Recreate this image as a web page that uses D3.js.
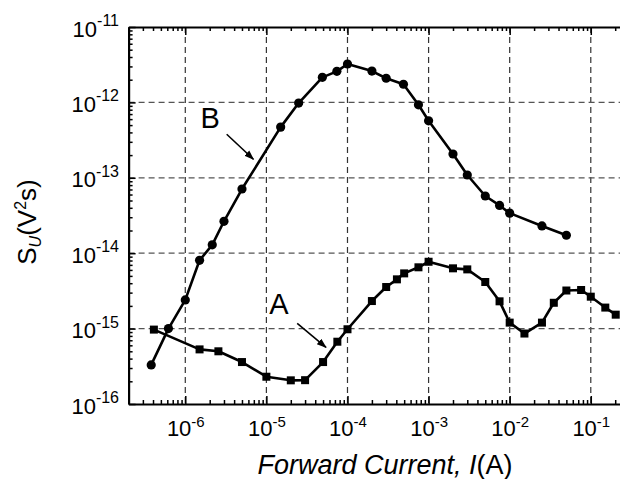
<!DOCTYPE html>
<html>
<head>
<meta charset="utf-8">
<script src="https://cdn.jsdelivr.net/npm/d3@7/dist/d3.min.js"></script>
<style>
  html, body { margin: 0; padding: 0; background: #fff; }
  svg { display: block; font-family: "Liberation Sans", Arial, sans-serif; }
</style>
</head>
<body>
<script>
// Forward current (A) and noise spectral density S_U (V^2 s) for devices A and B
const currentB = [3.8e-7, 6.2e-7, 1e-6, 1.5e-6, 2.15e-6, 3e-6, 5e-6, 1.5e-5, 2.5e-5, 4.9e-5,
  7.4e-5, 1e-4, 2e-4, 3e-4, 4.9e-4, 7.5e-4, 1e-3, 2e-3, 3e-3, 5e-3, 7.5e-3, 1e-2, 2.5e-2, 5e-2];
const noiseB = [3.3e-16, 1e-15, 2.4e-15, 8.05e-15, 1.29e-14, 2.65e-14, 7.1e-14, 4.7e-13, 9.8e-13, 2.15e-12,
  2.58e-12, 3.23e-12, 2.6e-12, 2.09e-12, 1.74e-12, 9.3e-13, 5.7e-13, 2.07e-13, 1.09e-13, 5.74e-14, 4.3e-14, 3.4e-14, 2.3e-14, 1.73e-14];

const currentA = [4.1e-7, 1.5e-6, 2.56e-6, 5e-6, 1e-5, 2e-5, 3e-5, 5e-5, 7.5e-5, 1e-4,
  2e-4, 3e-4, 4.07e-4, 5e-4, 7.5e-4, 1e-3, 2e-3, 3e-3, 5e-3, 7.5e-3,
  1e-2, 1.52e-2, 2.5e-2, 3.5e-2, 5e-2, 7.6e-2, 0.1, 0.151, 0.203];
const noiseA = [9.7e-16, 5.3e-16, 5.0e-16, 3.6e-16, 2.3e-16, 2.06e-16, 2.07e-16, 3.6e-16, 6.7e-16, 9.8e-16,
  2.32e-15, 3.56e-15, 4.5e-15, 5.4e-15, 6.5e-15, 7.7e-15, 6.3e-15, 6.1e-15, 4.15e-15, 2.3e-15,
  1.2e-15, 8.6e-16, 1.2e-15, 2.2e-15, 3.2e-15, 3.25e-15, 2.65e-15, 1.9e-15, 1.53e-15];

// Decade tick exponents
const xTickExponents = [-6, -5, -4, -3, -2, -1];
const yTickExponents = [-16, -15, -14, -13, -12, -11];

// Curve labels with arrows, in data coordinates
const curveLabels = [
  { text: "B", x: 2.02e-6, y: 4.6e-13, from: [3.24e-6, 3.78e-13], to: [6.92e-6, 1.76e-13] },
  { text: "A", x: 1.43e-5, y: 1.55e-15, from: [2.4e-5, 1.17e-15], to: [5.43e-5, 5.65e-16] }
];

const W = 620, H = 479;
const plotLeft = 128.6, plotTop = 27, plotBottom = 404;
const decadeX = 81.1;

const x = d3.scaleLog().domain([2e-7, 1]).range([plotLeft, plotLeft + Math.log10(1 / 2e-7) * decadeX]);
const y = d3.scaleLog().domain([1e-16, 1e-11]).range([plotBottom, plotTop]);

const svg = d3.select("body").append("svg")
  .attr("width", W).attr("height", H)
  .attr("viewBox", `0 0 ${W} ${H}`)
  .style("overflow", "hidden");

const defs = svg.append("defs");
defs.append("marker")
  .attr("id", "arrowhead")
  .attr("viewBox", "0 0 10 10")
  .attr("refX", 9).attr("refY", 5)
  .attr("markerWidth", 10).attr("markerHeight", 10)
  .attr("markerUnits", "userSpaceOnUse")
  .attr("orient", "auto")
  .append("path").attr("d", "M0,1.5 L10,5 L0,8.5 Z").attr("fill", "#000");

const xMajor = xTickExponents.map(e => Math.pow(10, e));
const yMajor = yTickExponents.map(e => Math.pow(10, e));
const minorOf = (majors) => {
  const out = [];
  majors.forEach(m => { for (let k = 2; k <= 9; k++) out.push(m * k / 10); });
  return out;
};
const xMinor = minorOf(xMajor.concat([1e-7, 1])).filter(v => v >= 1.99e-7 && v <= 1);
const yMinor = minorOf(yMajor.concat([1e-10])).filter(v => v > 1e-16 && v < 1e-11);

// Dashed grid at decades
const grid = svg.append("g");
grid.selectAll("line.vg").data(xMajor).enter().append("line")
  .attr("x1", d => x(d)).attr("x2", d => x(d))
  .attr("y1", plotTop).attr("y2", plotBottom)
  .attr("stroke", "#333").attr("stroke-width", 1.2).attr("stroke-dasharray", "6,4");
grid.selectAll("line.hg").data(yMajor.filter(v => v > 1e-16 && v < 1e-11)).enter().append("line")
  .attr("x1", plotLeft).attr("x2", W)
  .attr("y1", d => y(d)).attr("y2", d => y(d))
  .attr("stroke", "#555").attr("stroke-width", 1.2).attr("stroke-dasharray", "6,4");

function styleAxis(g, width) {
  g.select(".domain").attr("stroke", "#000").attr("stroke-width", width);
  g.selectAll(".tick line").attr("stroke", "#000").attr("stroke-width", 1.5);
}

// Bottom axis
const gBottomMinor = svg.append("g").attr("transform", `translate(0,${plotBottom})`)
  .call(d3.axisBottom(x).tickValues(xMinor).tickSizeInner(-4).tickSizeOuter(0).tickFormat(""));
gBottomMinor.select(".domain").remove();
styleAxis(gBottomMinor, 0);
const gBottom = svg.append("g").attr("transform", `translate(0,${plotBottom})`)
  .call(d3.axisBottom(x).tickValues(xMajor).tickSizeInner(-8).tickSizeOuter(0).tickFormat(""));
styleAxis(gBottom, 2.2);

// Top axis
const gTopMinor = svg.append("g").attr("transform", `translate(0,${plotTop})`)
  .call(d3.axisTop(x).tickValues(xMinor).tickSizeInner(-4).tickSizeOuter(0).tickFormat(""));
gTopMinor.select(".domain").remove();
styleAxis(gTopMinor, 0);
const gTop = svg.append("g").attr("transform", `translate(0,${plotTop})`)
  .call(d3.axisTop(x).tickValues(xMajor).tickSizeInner(-8).tickSizeOuter(0).tickFormat(""));
styleAxis(gTop, 2.2);

// Left axis
const gLeftMinor = svg.append("g").attr("transform", `translate(${plotLeft},0)`)
  .call(d3.axisLeft(y).tickValues(yMinor).tickSizeInner(-4).tickSizeOuter(0).tickFormat(""));
gLeftMinor.select(".domain").remove();
styleAxis(gLeftMinor, 0);
const gLeft = svg.append("g").attr("transform", `translate(${plotLeft},0)`)
  .call(d3.axisLeft(y).tickValues(yMajor).tickSizeInner(-7).tickSizeOuter(0).tickFormat(""));
styleAxis(gLeft, 2.2);

// Power-of-ten tick labels
gBottom.selectAll(".tick").each(function (d) {
  const t = d3.select(this).append("text")
    .attr("fill", "#000").attr("text-anchor", "middle")
    .attr("y", 32).attr("font-size", 22);
  t.append("tspan").text("10");
  t.append("tspan").attr("dy", -9).attr("font-size", 15).text(String(Math.round(Math.log10(d))));
});
gLeft.selectAll(".tick").each(function (d) {
  const t = d3.select(this).append("text")
    .attr("fill", "#000").attr("text-anchor", "end")
    .attr("x", -9.6).attr("y", 9).attr("font-size", 22);
  t.append("tspan").text("10");
  t.append("tspan").attr("dy", -10.5).attr("font-size", 16).text(String(Math.round(Math.log10(d))));
});

// Axis titles
const xTitle = svg.append("text")
  .attr("x", 385).attr("y", 474).attr("text-anchor", "middle")
  .attr("font-size", 27).attr("fill", "#000");
xTitle.append("tspan").attr("font-style", "italic").text("Forward Current, I");
xTitle.append("tspan").text("(A)");

const yTitle = svg.append("text")
  .attr("transform", "translate(36,222) rotate(-90)")
  .attr("text-anchor", "middle").attr("font-size", 26).attr("fill", "#000");
yTitle.append("tspan").text("S");
yTitle.append("tspan").attr("font-size", 16).attr("font-style", "italic").attr("dy", 5).text("U");
yTitle.append("tspan").attr("dy", -5).text("(V");
yTitle.append("tspan").attr("font-size", 16).attr("dy", -10).text("2");
yTitle.append("tspan").attr("dy", 10).text("s)");

// Curves
const line = d3.line().x(d => x(d[0])).y(d => y(d[1]));
const seriesA = currentA.map((c, i) => [c, noiseA[i]]);
const seriesB = currentB.map((c, i) => [c, noiseB[i]]);

svg.append("path").datum(seriesA).attr("d", line)
  .attr("fill", "none").attr("stroke", "#000").attr("stroke-width", 2.6).attr("stroke-linejoin", "round");
svg.append("path").datum(seriesB).attr("d", line)
  .attr("fill", "none").attr("stroke", "#000").attr("stroke-width", 2.6).attr("stroke-linejoin", "round");

const sq = 8;
svg.append("g").selectAll("rect").data(seriesA).enter().append("rect")
  .attr("x", d => x(d[0]) - sq / 2).attr("y", d => y(d[1]) - sq / 2)
  .attr("width", sq).attr("height", sq).attr("fill", "#000");
svg.append("g").selectAll("circle").data(seriesB).enter().append("circle")
  .attr("cx", d => x(d[0])).attr("cy", d => y(d[1])).attr("r", 4.6).attr("fill", "#000");

// Curve labels and arrows
curveLabels.forEach(l => {
  svg.append("text").attr("x", x(l.x)).attr("y", y(l.y))
    .attr("text-anchor", "middle").attr("font-size", 29).attr("fill", "#000").text(l.text);
  svg.append("line")
    .attr("x1", x(l.from[0])).attr("y1", y(l.from[1]))
    .attr("x2", x(l.to[0])).attr("y2", y(l.to[1]))
    .attr("stroke", "#000").attr("stroke-width", 1.6)
    .attr("marker-end", "url(#arrowhead)");
});
</script>
</body>
</html>
